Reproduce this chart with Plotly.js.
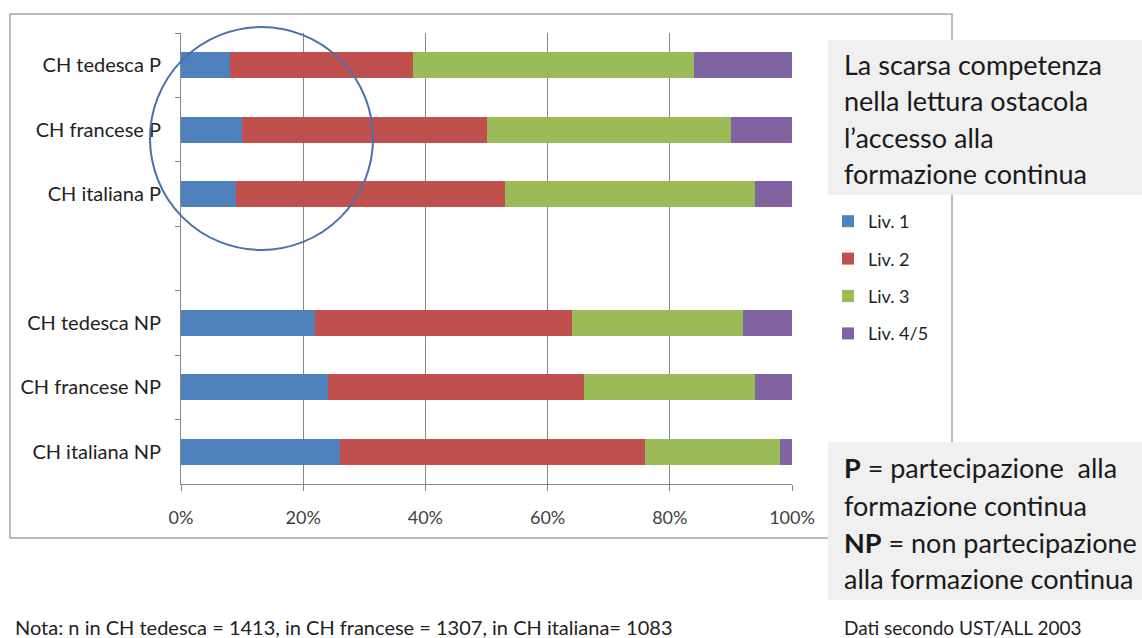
<!DOCTYPE html>
<html>
<head>
<meta charset="utf-8">
<script src="https://cdn.plot.ly/plotly-3.0.1.min.js"></script>
<style>
html,body{margin:0;padding:0;background:#fff;}
#chart{width:1142px;height:638px;}
</style>
</head>
<body>
<div id="chart"></div>
<script>
// ---- data ----
const categories = ['CH tedesca P', 'CH francese P', 'CH italiana P', ' ', 'CH tedesca NP', 'CH francese NP', 'CH italiana NP'];
const groups = ['CH tedesca P', 'CH francese P', 'CH italiana P', 'CH tedesca NP', 'CH francese NP', 'CH italiana NP'];
const seriesNames = ['Liv. 1', 'Liv. 2', 'Liv. 3', 'Liv. 4/5'];
const liv1 = [8, 10, 9, 22, 24, 26];
const liv2 = [30, 40, 44, 42, 42, 50];
const liv3 = [46, 40, 41, 28, 28, 22];
const liv45 = [16, 10, 6, 8, 6, 2];
const xTickVals = [0, 20, 40, 60, 80, 100];
const xTickText = ['0%', '20%', '40%', '60%', '80%', '100%'];
const titleLines = ['La scarsa competenza', 'nella lettura ostacola', 'l\u2019accesso alla', 'formazione continua'];
const noteLines = ['<b>P</b> = partecipazione  alla', 'formazione continua', '<b>NP</b> = non partecipazione', 'alla formazione continua'];
const footLeft = 'Nota: n in CH tedesca = 1413, in CH francese = 1307, in CH italiana= 1083';
const footRight = 'Dati secondo UST/ALL 2003';

// ---- styling / layout ----
const colors = ['#4F81BD', '#C0504D', '#9BBB59', '#8064A2'];
const FONT = 'Lato, Carlito, "Open Sans", sans-serif';
const L = 181, R = 792, T = 33, B = 484, W = 1142, H = 638;
const px = x => (x - L) / (R - L);
const py = y => (B - y) / (B - T);

const values = [liv1, liv2, liv3, liv45];
const traces = values.map((v, i) => ({
  type: 'bar',
  orientation: 'h',
  name: seriesNames[i],
  x: v,
  y: groups,
  legendgroup: 'g' + i,
  marker: {color: colors[i], line: {width: 0}},
  hoverinfo: 'name+x'
}));

const titleY = [65, 101, 137, 173];
const noteY = [467, 505, 542, 578];
const annotations = [];
titleLines.forEach((t, i) => annotations.push({
  xref: 'paper', yref: 'paper', x: px(842), y: py(titleY[i]),
  xanchor: 'left', yanchor: 'middle', showarrow: false, text: t,
  font: {family: FONT, size: 27, color: '#1a1a1a'}
}));
noteLines.forEach((t, i) => annotations.push({
  xref: 'paper', yref: 'paper', x: px(842), y: py(noteY[i]),
  xanchor: 'left', yanchor: 'middle', showarrow: false, text: t,
  font: {family: FONT, size: 27, color: '#1a1a1a'}
}));
annotations.push({
  xref: 'paper', yref: 'paper', x: px(13), y: py(627),
  xanchor: 'left', yanchor: 'middle', showarrow: false, text: footLeft,
  font: {family: FONT, size: 20, color: '#222'}
});
annotations.push({
  xref: 'paper', yref: 'paper', x: px(842), y: py(627),
  xanchor: 'left', yanchor: 'middle', showarrow: false, text: footRight,
  font: {family: FONT, size: 19, color: '#222'}
});

const shapes = [
  {type: 'rect', xref: 'paper', yref: 'paper', x0: px(10), x1: px(952), y0: py(538), y1: py(14),
   line: {color: '#a6a6a6', width: 1.5}, fillcolor: 'rgba(0,0,0,0)', layer: 'below'},
  {type: 'rect', xref: 'paper', yref: 'paper', x0: px(828), x1: px(1150), y0: py(195), y1: py(40),
   line: {width: 0}, fillcolor: '#f0f0f0', layer: 'above'},
  {type: 'rect', xref: 'paper', yref: 'paper', x0: px(828), x1: px(1150), y0: py(600), y1: py(442),
   line: {width: 0}, fillcolor: '#f0f0f0', layer: 'above'},
  {type: 'circle', xref: 'paper', yref: 'paper', x0: px(150), x1: px(373), y0: py(250), y1: py(27),
   line: {color: '#4A72A6', width: 2}, fillcolor: 'rgba(0,0,0,0)', layer: 'above'}
];

const layout = {
  width: W, height: H,
  margin: {l: L, r: W - R, t: T, b: H - B, pad: 0},
  paper_bgcolor: '#ffffff', plot_bgcolor: '#ffffff',
  barmode: 'stack', bargap: 0.6,
  font: {family: FONT, color: '#222'},
  showlegend: true,
  legend: {
    x: px(828), y: py(203), xanchor: 'left', yanchor: 'top',
    traceorder: 'grouped', tracegroupgap: 11,
    bgcolor: 'rgba(0,0,0,0)', borderwidth: 0,
    font: {family: FONT, size: 18, color: '#222'}
  },
  xaxis: {
    range: [0, 100], tickmode: 'array', tickvals: xTickVals, ticktext: xTickText,
    showgrid: true, gridcolor: '#868686', gridwidth: 1, zeroline: false,
    showline: true, linecolor: '#868686', linewidth: 1,
    ticks: 'outside', ticklen: 6, tickcolor: '#868686',
    ticklabelstandoff: 11,
    tickfont: {family: FONT, size: 18, color: '#404040'}, fixedrange: true
  },
  yaxis: {
    type: 'category', categoryorder: 'array', categoryarray: categories,
    range: [6.5, -0.5],
    showgrid: false, zeroline: false,
    showline: true, linecolor: '#868686', linewidth: 1,
    ticks: 'outside', tickson: 'boundaries', ticklen: 5, tickcolor: '#868686',
    ticklabelstandoff: 15,
    tickfont: {family: FONT, size: 20, color: '#222'}, fixedrange: true
  },
  shapes: shapes,
  annotations: annotations
};

Plotly.newPlot('chart', traces, layout, {displayModeBar: false, staticPlot: true});
</script>
</body>
</html>
